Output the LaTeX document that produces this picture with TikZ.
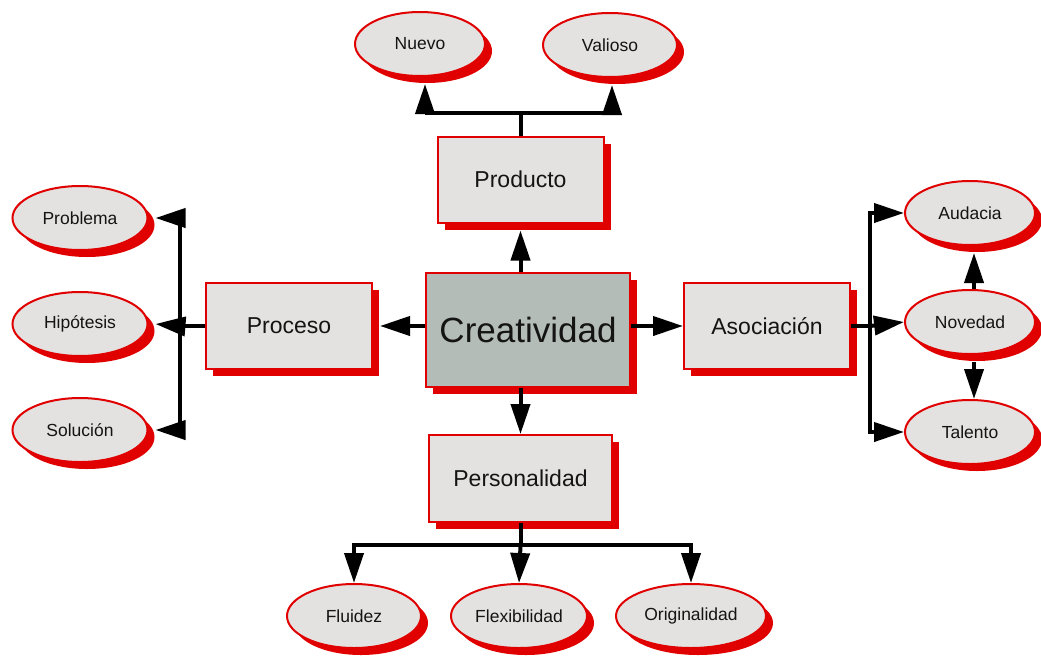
\documentclass[tikz,border=0pt]{standalone}
\usepackage{fontspec}
\setmainfont{Liberation Sans}
\usepackage{xcolor}
\usetikzlibrary{shapes.geometric,shadows,arrows.meta}
\definecolor{mapred}{HTML}{E00000}
\definecolor{mapgray}{HTML}{E4E2E0}
\definecolor{coregray}{HTML}{B4BCB8}
\definecolor{ink}{HTML}{141414}

\begin{document}
\begin{tikzpicture}[x=1pt,y=-1pt,
    box/.style={draw=mapred,line width=2pt,fill=mapgray,text=ink,
        minimum width=166pt,minimum height=86pt,inner sep=0pt,
        font=\fontsize{23}{26}\selectfont,
        drop shadow={shadow xshift=7pt,shadow yshift=-7pt,fill=mapred,opacity=1}},
    bubble/.style={ellipse,draw=mapred,line width=2pt,fill=mapgray,text=ink,
        minimum height=64pt,inner sep=0pt,
        font=\fontsize{17.5}{20}\selectfont,
        drop shadow={shadow xshift=7pt,shadow yshift=-7pt,fill=mapred,opacity=1}},
    link/.style={line width=4pt},
    arrow/.style={line width=4pt,-{Triangle[length=30pt,width=19pt]}}]
    \useasboundingbox (0,0) rectangle (1041,656);

    % Central box and the four main boxes
    \node[box,fill=coregray,minimum width=204pt,minimum height=114pt,
        font=\fontsize{35}{40}\selectfont] (crea) at (528,330) {Creatividad};
    \node[box] (prod) at (520.5,179.5) {Producto};
    \node[box] (proc) at (289,326) {Proceso};
    \node[box] (asoc) at (767,326) {Asociación};
    \node[box,minimum width=183pt,minimum height=87pt] (pers) at (520.5,478.5) {Personalidad};

    % Ellipses round the boxes
    \foreach \name/\x/\y/\w/\txt in {nuevo/420/44/130/Nuevo, valioso/610/45/134/Valioso,
        problema/80/218/135/Problema, hipotesis/80/324/135/Hipótesis,
        solucion/80/430/135/Solución, audacia/970/213/130/Audacia,
        novedad/970/322/130/Novedad, talento/970/432/130/Talento,
        fluidez/354/616/134/Fluidez, flexibilidad/519/616/136/Flexibilidad,
        originalidad/691/616/150/Originalidad} {
        \node[bubble,minimum width=\w pt] (\name) at (\x,\y) {\txt};
    }

    % Branch points
    \coordinate (ptop) at (520.5,113);
    \coordinate (pleft) at (180,326);
    \coordinate (aright) at (870,326);
    \coordinate (pbot) at (520.5,545);

    % From the centre
    \draw[arrow,shorten >=7pt] (crea.north -| prod.south) -- (prod.south);
    \draw[arrow,shorten >=7pt] (crea.west |- proc.east) -- (proc.east);
    \draw[arrow] (crea.east |- asoc.west) -- (asoc.west);
    \draw[arrow] (crea.south -| pers.north) -- (pers.north);

    % Producto
    \draw[link] (prod.north) -- (ptop);
    \draw[arrow] (ptop) -| ([xshift=5pt,yshift=-7pt]nuevo.south);
    \draw[arrow] (ptop) -| ([xshift=2pt,yshift=-7pt]valioso.south);

    % Proceso
    \draw[link] (proc.west) -- (pleft);
    \draw[arrow] (pleft) |- ([xshift=7pt]problema.east);
    \draw[arrow] (pleft) -- ([xshift=7pt]hipotesis.east);
    \draw[arrow] (pleft) |- ([xshift=7pt]solucion.east);

    % Asociacion
    \draw[link] (asoc.east) -- (aright);
    \draw[arrow] (aright) |- (audacia.west);
    \draw[arrow] (aright) -- (novedad.west);
    \draw[arrow] (aright) |- (talento.west);
    \draw[arrow] ([xshift=4pt]novedad.north) -- ([xshift=4pt,yshift=-7pt]audacia.south);
    \draw[arrow] ([xshift=4pt,yshift=-7pt]novedad.south) -- ([xshift=4pt]talento.north);

    % Personalidad
    \draw[link] (pers.south) -- (pbot);
    \draw[arrow] (pbot) -| (fluidez.north);
    \draw[arrow] (pbot) -- (flexibilidad.north);
    \draw[arrow] (pbot) -| (originalidad.north);

\end{tikzpicture}
\end{document}
